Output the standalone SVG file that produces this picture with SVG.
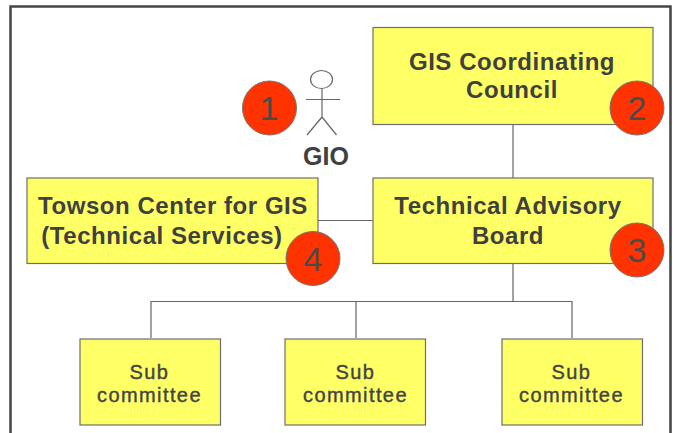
<svg xmlns="http://www.w3.org/2000/svg" width="673" height="433" viewBox="0 0 673 433">
<style>
.box{fill:#ffff66;stroke:#6e6e6e;stroke-width:1.2}
.line{fill:none;stroke:#666;stroke-width:1.2}
.badge{fill:#ff3300;stroke:#777;stroke-width:1}
text{font-family:"Liberation Sans",Arial,sans-serif;fill:#404040;text-anchor:middle}
.big{font-size:24px;font-weight:bold;letter-spacing:.55px}
.small{font-size:20px;fill:#444;stroke:#444;stroke-width:.4px;letter-spacing:1.4px}
.num{font-size:34px;fill:#4a4a4a}
</style>
<rect width="673" height="433" fill="#fff"/>
<path d="M10.500 433V6.500H670.500V433" fill="none" stroke="#444" stroke-width="2.500"/>
<g id="connectors">
<path class="line" d="M513 124V178"/>
<path class="line" d="M318 220.500H373"/>
<path class="line" d="M513 263V301.500M151 338V301.500H572V338M356 301.500V338"/>
</g>
<g id="n2"><rect class="box" x="373" y="27.500" width="280" height="97"/>
<text class="big" x="512" y="70">GIS Coordinating</text><text class="big" x="512" y="98">Council</text></g>
<g id="n3"><rect class="box" x="373" y="178" width="280" height="85.500"/>
<text class="big" x="508" y="214">Technical Advisory</text><text class="big" x="508" y="244">Board</text></g>
<g id="n4"><rect class="box" x="27" y="178" width="291" height="85.500"/>
<text class="big" x="173" y="214">Towson Center for GIS</text><text class="big" x="162" y="244">(Technical Services)</text></g>
<g id="s1"><rect class="box" x="80" y="339" width="140.500" height="86"/>
<text class="small" x="149.500" y="379">Sub</text><text class="small" x="149.500" y="402">committee</text></g>
<g id="s2"><rect class="box" x="285" y="339" width="140.500" height="86"/>
<text class="small" x="355.500" y="379">Sub</text><text class="small" x="355.500" y="402">committee</text></g>
<g id="s3"><rect class="box" x="502" y="339" width="140.500" height="86"/>
<text class="small" x="571.500" y="379">Sub</text><text class="small" x="571.500" y="402">committee</text></g>
<g id="gio">
<ellipse cx="321.500" cy="79.500" rx="11" ry="9" fill="#fff" stroke="#666" stroke-width="1.200"/>
<path class="line" d="M322 88.500V117M306 99.500H340M322 117L307 135M322 117L336.500 135"/>
<text x="326" y="165" font-size="25" font-weight="bold">GIO</text></g>
<g id="b1"><circle class="badge" cx="269.500" cy="108" r="27"/><text class="num" x="269" y="120">1</text></g>
<g id="b2"><circle class="badge" cx="637" cy="108" r="27"/><text class="num" x="637" y="120">2</text></g>
<g id="b3"><circle class="badge" cx="637" cy="250" r="27"/><text class="num" x="637" y="262">3</text></g>
<g id="b4"><circle class="badge" cx="313" cy="258.500" r="27"/><text class="num" x="313" y="270.500">4</text></g>
</svg>
